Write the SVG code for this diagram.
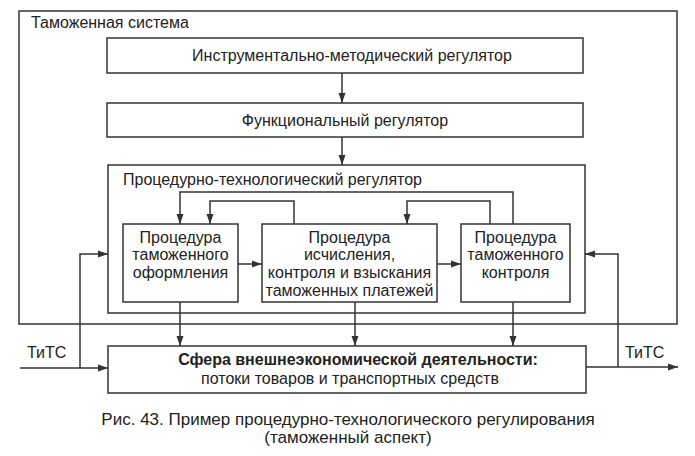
<svg xmlns="http://www.w3.org/2000/svg" width="695" height="456" viewBox="0 0 695 456">
<style>
.box{fill:none;stroke:#333;stroke-width:1.5}
.ln{fill:none;stroke:#333;stroke-width:1.5}
text{font-family:"Liberation Sans",Arial,sans-serif;fill:#222;font-size:16px}
.c{text-anchor:middle}
.b{font-weight:bold}
.cap{font-size:17px}
</style>
<defs>
<marker id="ah" viewBox="0 0 10 10" refX="10" refY="5" markerWidth="10" markerHeight="10" markerUnits="userSpaceOnUse" orient="auto">
<path d="M0,1.5 L10,5 L0,8.5 Z" fill="#333"/>
</marker>
</defs>
<rect width="695" height="456" fill="#fff"/>
<g id="customs-system">
<rect class="box" x="19" y="11" width="658" height="313"/>
<text x="31" y="28">Таможенная система</text>
</g>
<g id="instr-reg">
<rect class="box" x="107" y="38" width="476" height="35"/>
<text class="c" x="352" y="61">Инструментально-методический регулятор</text>
</g>
<g id="func-reg">
<rect class="box" x="107" y="103" width="476" height="34"/>
<text class="c" x="345" y="126">Функциональный регулятор</text>
</g>
<g id="proc-reg">
<rect class="box" x="108" y="165" width="477" height="148"/>
<text x="123" y="185">Процедурно-технологический регулятор</text>
</g>
<g id="proc-a">
<rect class="box" x="123" y="224" width="115" height="78"/>
<text class="c" x="180.5" y="243">Процедура</text>
<text class="c" x="180.5" y="260">таможенного</text>
<text class="c" x="180.5" y="278">оформления</text>
</g>
<g id="proc-b">
<rect class="box" x="262" y="224" width="175" height="78"/>
<text class="c" x="349.5" y="243">Процедура</text>
<text class="c" x="349.5" y="260">исчисления,</text>
<text class="c" x="349.5" y="278">контроля и взыскания</text>
<text class="c" x="349.5" y="296">таможенных платежей</text>
</g>
<g id="proc-c">
<rect class="box" x="461" y="224" width="109" height="78"/>
<text class="c" x="515.5" y="243">Процедура</text>
<text class="c" x="515.5" y="260">таможенного</text>
<text class="c" x="515.5" y="278">контроля</text>
</g>
<g id="fea">
<rect class="box" x="108" y="346" width="478" height="47"/>
<text class="c b" x="358" y="365">Сфера внешнеэкономической деятельности:</text>
<text class="c" x="350" y="384">потоки товаров и транспортных средств</text>
</g>
<g id="connectors">
<path class="ln" d="M342,73 V103" marker-end="url(#ah)"/>
<path class="ln" d="M342,137 V165" marker-end="url(#ah)"/>
<path class="ln" d="M513,224 V192 H180 V224" marker-end="url(#ah)"/>
<path class="ln" d="M294,224 V201 H210 V224" marker-end="url(#ah)"/>
<path class="ln" d="M490,224 V201 H407 V224" marker-end="url(#ah)"/>
<path class="ln" d="M238,264 H262" marker-end="url(#ah)"/>
<path class="ln" d="M437,264 H461" marker-end="url(#ah)"/>
<path class="ln" d="M180,302 V346" marker-end="url(#ah)"/>
<path class="ln" d="M355,302 V346" marker-end="url(#ah)"/>
<path class="ln" d="M513,302 V346" marker-end="url(#ah)"/>
<path class="ln" d="M20,368 H108" marker-end="url(#ah)"/>
<path class="ln" d="M80,368 V254 H108" marker-end="url(#ah)"/>
<path class="ln" d="M586,367 H678" marker-end="url(#ah)"/>
<path class="ln" d="M618,367 V254 H585" marker-end="url(#ah)"/>
</g>
<g id="labels">
<text x="27" y="358">ТиТС</text>
<text x="625" y="358">ТиТС</text>
<text class="c cap" x="348" y="425">Рис. 43. Пример процедурно-технологического регулирования</text>
<text class="c cap" x="348" y="443">(таможенный аспект)</text>
</g>
</svg>
